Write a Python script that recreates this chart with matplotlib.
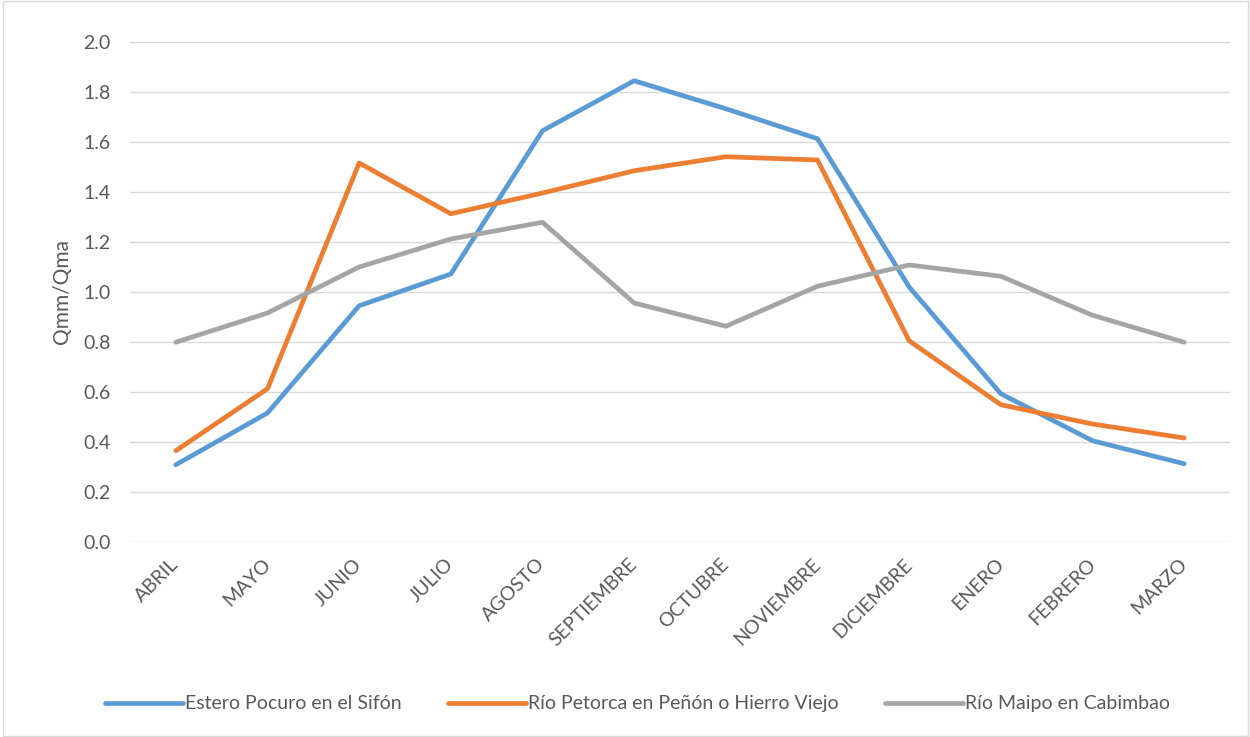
import matplotlib
matplotlib.use("Agg")
import matplotlib.pyplot as plt
from matplotlib.patches import Rectangle

# Données (Qmm/Qma par mois)
meses = ["ABRIL", "MAYO", "JUNIO", "JULIO", "AGOSTO", "SEPTIEMBRE", "OCTUBRE",
         "NOVIEMBRE", "DICIEMBRE", "ENERO", "FEBRERO", "MARZO"]
pocuro = [0.309, 0.516, 0.945, 1.072, 1.645, 1.845, 1.733, 1.613, 1.020, 0.593, 0.405, 0.313]
petorca = [0.365, 0.613, 1.516, 1.313, 1.396, 1.485, 1.541, 1.528, 0.805, 0.549, 0.472, 0.416]
maipo = [0.799, 0.916, 1.100, 1.212, 1.279, 0.956, 0.863, 1.023, 1.108, 1.063, 0.907, 0.799]
series = ["Estero Pocuro en el Sifón", "Río Petorca en Peñón o Hierro Viejo", "Río Maipo en Cabimbao"]
colores = ["#5B9BD5", "#ED7D31", "#A5A5A5"]

plt.rcParams["font.family"] = ["Lato", "DejaVu Sans"]
texto = "#595959"

fig = plt.figure(figsize=(12.5, 7.37), dpi=100)
ax = fig.add_axes([0.104, 0.2646, 0.88, 0.6784])

x = range(len(meses))
for vals, nombre, c in zip([pocuro, petorca, maipo], series, colores):
    ax.plot(x, vals, color=c, lw=3.4, label=nombre, solid_capstyle="round", solid_joinstyle="round")

ax.set_xlim(-0.5, len(meses) - 0.5)
ax.set_ylim(0, 2.0)
ax.set_yticks([i / 10 for i in range(0, 21, 2)])
ax.set_yticklabels([f"{i / 10:.1f}" for i in range(0, 21, 2)])
ax.set_xticks(list(x))
ax.set_xticklabels(meses, rotation=45, ha="right", va="center", rotation_mode="anchor")
ax.tick_params(axis="both", length=0, colors=texto, labelsize=14)
ax.tick_params(axis="x", pad=14)
ax.tick_params(axis="y", pad=14)
ax.grid(axis="y", color="#D9D9D9", lw=1)
ax.set_axisbelow(True)
for s in ax.spines.values():
    s.set_visible(False)
ax.set_ylabel("Qmm/Qma", color=texto, fontsize=15, labelpad=8)

fig.legend(loc="center", bbox_to_anchor=(0.51, 0.045), ncol=3, frameon=False,
           fontsize=14, labelcolor=texto, handlelength=4.0, handletextpad=0.1,
           columnspacing=2.4)

# cadre extérieur
fig.patches.append(Rectangle((0.002, 0.002), 0.996, 0.996, transform=fig.transFigure,
                             fill=False, edgecolor="#D9D9D9", lw=1))

fig.savefig("out.png", dpi=100)
plt.close(fig)
